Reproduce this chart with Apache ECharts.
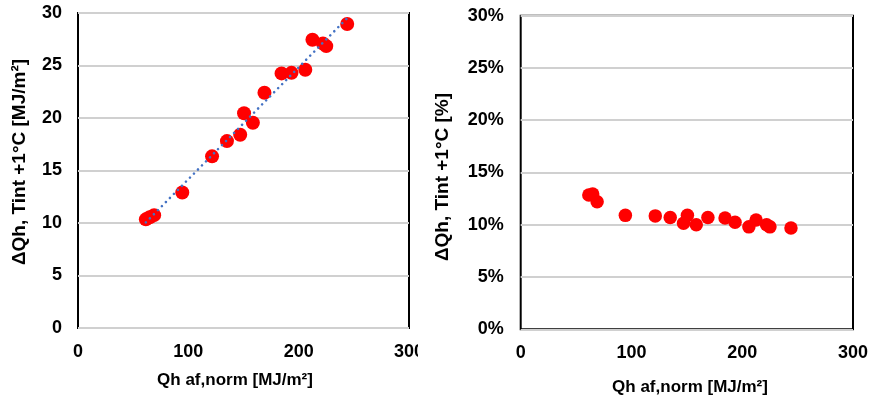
<!DOCTYPE html>
<html>
<head>
<meta charset="utf-8">
<script src="https://cdn.jsdelivr.net/npm/echarts@6/dist/echarts.min.js"></script>
<style>
html,body{margin:0;padding:0;background:#fff;}
#wrap{position:relative;width:870px;height:398px;}
#c1{position:absolute;left:0;top:0;width:418px;height:398px;}
#c2{position:absolute;left:418px;top:0;width:452px;height:398px;}
</style>
</head>
<body>
<div id="wrap"><div id="c1"></div><div id="c2"></div></div>
<script>
// shared x values (Qh af,norm [MJ/m²])
const xValues = [61.5, 65, 69, 94.5, 121.5, 135, 147, 150.5, 158.5, 169, 184.5, 193.5, 206, 212.5, 222, 225, 244];
// left chart: ΔQh [MJ/m²]
const dQhAbs = [10.35, 10.55, 10.75, 12.9, 16.35, 17.8, 18.4, 20.45, 19.55, 22.4, 24.25, 24.3, 24.6, 27.45, 27.1, 26.85, 28.95];
// right chart: ΔQh [%]
const dQhPct = [12.85, 12.95, 12.2, 10.9, 10.85, 10.7, 10.15, 10.9, 10.0, 10.7, 10.65, 10.25, 9.8, 10.45, 10.0, 9.8, 9.7];

const xTicks = [0, 100, 200, 300];
const yTicksLeft = [0, 5, 10, 15, 20, 25, 30];
const yTicksRight = [0, 5, 10, 15, 20, 25, 30];

const xTitle = 'Qh af,norm [MJ/m²]';
const yTitleLeft = '\u0394Qh, Tint +1°C [MJ/m²]';
const yTitleRight = '\u0394Qh, Tint +1°C [%]';

// linear trend from left data (least squares)
function linFit(xs, ys) {
  const n = xs.length;
  let sx = 0, sy = 0, sxx = 0, sxy = 0;
  for (let i = 0; i < n; i++) { sx += xs[i]; sy += ys[i]; sxx += xs[i]*xs[i]; sxy += xs[i]*ys[i]; }
  const b = (n*sxy - sx*sy) / (n*sxx - sx*sx);
  const a = (sy - b*sx) / n;
  return {a, b};
}
const fit = linFit(xValues, dQhAbs);
const xMin = Math.min(...xValues), xMax = Math.max(...xValues);
const trend = [[xMin, fit.a + fit.b*xMin], [xMax, fit.a + fit.b*xMax]];

const FONT = '"Liberation Sans", Arial, sans-serif';
const tickLbl = {fontFamily: FONT, fontWeight: 'bold', fontSize: 18, color: '#000'};

function titleText(text, x, y, rotate, size) {
  return {type: 'text', x: x, y: y, rotation: rotate ? Math.PI/2 : 0, silent: true,
    style: {text: text, fontFamily: FONT, fontWeight: 'bold', fontSize: size, fill: '#000',
            align: 'center', verticalAlign: 'middle'}};
}

function makeOption(opts) {
  return {
    animation: false,
    grid: {left: opts.left, top: opts.top, width: opts.width, height: opts.height, show: true,
           borderColor: '#000', borderWidth: 2, backgroundColor: '#fff',
           outerBoundsMode: 'none', containLabel: false},
    xAxis: {
      type: 'value', min: xTicks[0], max: xTicks[xTicks.length-1], interval: 100,
      axisLine: {show: false}, axisTick: {show: false}, splitLine: {show: false},
      axisLabel: Object.assign({margin: opts.xLabelMargin}, tickLbl)
    },
    yAxis: {
      type: 'value', min: opts.yTicks[0], max: opts.yTicks[opts.yTicks.length-1], interval: 5,
      axisLine: {show: false}, axisTick: {show: false},
      splitLine: {show: true, lineStyle: {color: '#d0d0d0', width: 2}},
      axisLabel: Object.assign({margin: opts.yLabelMargin, formatter: opts.yFmt}, tickLbl)
    },
    graphic: opts.graphic,
    series: opts.series
  };
}

const c1 = echarts.init(document.getElementById('c1'));
c1.setOption(makeOption({
  left: 78, top: 13, width: 331, height: 315, xLabelMargin: 15, yLabelMargin: 16,
  yTicks: yTicksLeft, yFmt: '{value}',
  graphic: [titleText(yTitleLeft, 20, 162, true, 19), titleText(xTitle, 235, 380, false, 17)],
  series: [
    {type: 'scatter', data: xValues.map((x, i) => [x, dQhAbs[i]]), symbolSize: 14,
     itemStyle: {color: '#ff0000', opacity: 1}, z: 2},
    {type: 'line', data: trend, showSymbol: false, symbol: 'none',
     lineStyle: {color: '#4472c4', width: 2.6, type: [0.01, 5.7], cap: 'round'}, z: 3}
  ]
}));

const c2 = echarts.init(document.getElementById('c2'));
c2.setOption(makeOption({
  left: 102.7, top: 15.7, width: 332.3, height: 313.6, xLabelMargin: 15, yLabelMargin: 17,
  yTicks: yTicksRight, yFmt: '{value}%',
  graphic: [titleText(yTitleRight, 24.5, 177, true, 19), titleText(xTitle, 272, 387, false, 17)],
  series: [
    {type: 'scatter', data: xValues.map((x, i) => [x, dQhPct[i]]), symbolSize: 13.5,
     itemStyle: {color: '#ff0000', opacity: 1}}
  ]
}));
</script>
</body>
</html>
